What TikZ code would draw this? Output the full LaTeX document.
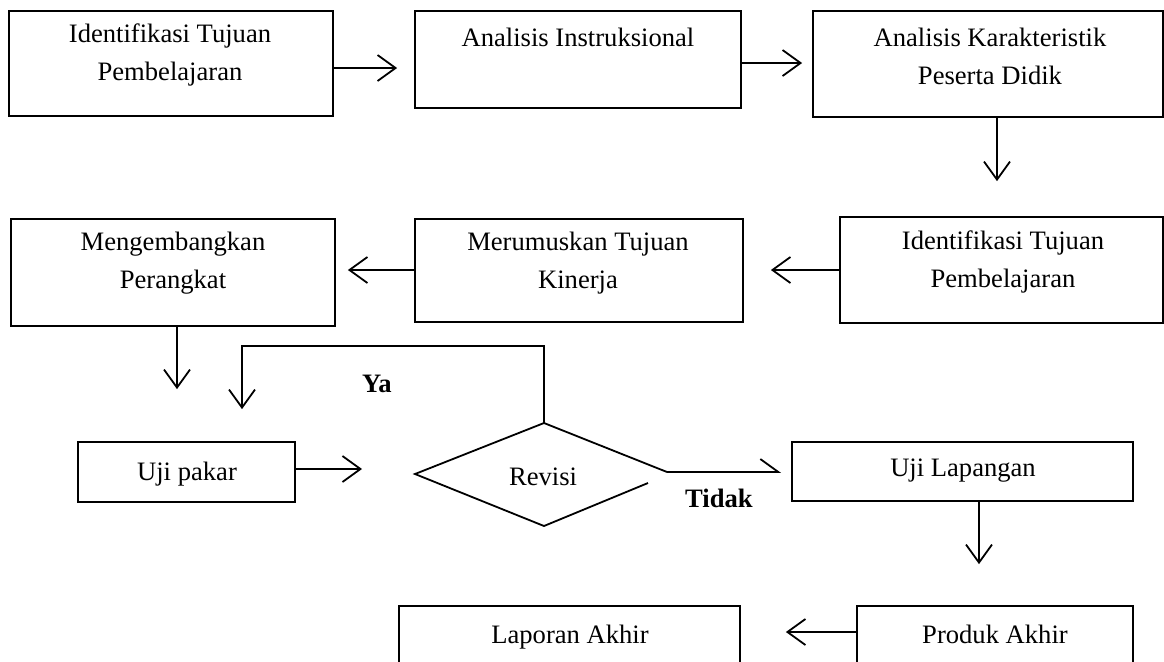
\documentclass[tikz,border=0pt]{standalone}
\usepackage{fontspec}
\setmainfont{Liberation Serif}
\usetikzlibrary{arrows.meta}
\begin{document}
\begin{tikzpicture}[x=0.5pt,y=-0.5pt,
  box/.style={draw, line width=0.9pt, inner sep=0pt},
  lbl/.style={font=\fontsize{13.3}{19}\selectfont, align=center, inner sep=0pt},
  sl/.style={lbl, text height=0.68em, text depth=0.22em, yshift=-2.5pt},
  blbl/.style={font=\fontsize{13.3}{19}\selectfont\bfseries, align=center, inner sep=0pt, text height=0.68em, text depth=0.22em, yshift=-2pt},
  conn/.style={line width=0.9pt},
  arr/.style={line width=0.9pt, -{Straight Barb[length=9pt,width=13pt]}},
  harr/.style={line width=0.9pt, -{Straight Barb[length=9pt,width=13pt,harpoon]}}]
\useasboundingbox (0,0) rectangle (1164,661);
\clip (0,0) rectangle (1164,661);
% boxes
\node[box, minimum width=162pt, minimum height=52.5pt] (A) at (171,63.5) {};
\node[box, minimum width=163pt, minimum height=48.5pt] (B) at (578,59.5) {};
\node[box, minimum width=175pt, minimum height=53pt] (C) at (988,64) {};
\node[box, minimum width=161.5pt, minimum height=53pt] (F) at (1001.5,270) {};
\node[box, minimum width=164pt, minimum height=51.5pt] (E) at (579,270.5) {};
\node[box, minimum width=162pt, minimum height=53.5pt] (D) at (173,272.5) {};
\node[box, minimum width=108.5pt, minimum height=30pt] (G) at (186.5,472) {};
\node[box, minimum width=170.5pt, minimum height=29.5pt] (H) at (962.5,471.5) {};
\node[box, minimum width=170.5pt, minimum height=47pt] (I) at (569.5,653) {};
\node[box, minimum width=138pt, minimum height=47pt] (J) at (995,653) {};
% texts
\node[lbl] (tA) at (170,55) {Identifikasi Tujuan\\Pembelajaran};
\node[sl] (tB) at (578,37) {Analisis Instruksional};
\node[lbl] (tC) at (990,56) {Analisis Karakteristik\\Peserta Didik};
\node[lbl] (tF) at (1003,262) {Identifikasi Tujuan\\Pembelajaran};
\node[lbl] (tE) at (578,263) {Merumuskan Tujuan\\Kinerja};
\node[lbl] (tD) at (173,263) {Mengembangkan\\Perangkat};
\node[sl] (tG) at (187,471) {Uji pakar};
\node[sl] (tH) at (963,467) {Uji Lapangan};
\node[sl] (tI) at (570,634) {Laporan Akhir};
\node[sl] (tJ) at (995,634) {Produk Akhir};
% diamond
\coordinate (Rl) at (415,474);
\coordinate (Rt) at (544,423);
\coordinate (Rr) at (667,472);
\coordinate (Rb) at (544,526);
\coordinate (Rg) at (648,483);
\draw[conn] (Rg) -- (Rb) -- (Rl) -- (Rt) -- (Rr);
\node[sl] (R) at (543,476) {Revisi};
\node[blbl] (ya) at (377,384) {Ya};
\node[blbl] (tidak) at (719,499) {Tidak};
% connectors
\draw[arr, shorten >=8.5pt] (A.east |- 0,68) -- (B.west |- 0,68);
\draw[arr, shorten >=5pt] (B.east |- 0,63) -- (C.west |- 0,63);
\draw[arr, shorten >=17.5pt] (C.south -| 997,0) -- (F.north -| 997,0);
\draw[arr, shorten >=13.5pt] (F.west |- 0,270) -- (E.east |- 0,270);
\draw[arr, shorten >=6pt] (E.west |- 0,270) -- (D.east |- 0,270);
\draw[arr, shorten >=26pt] (D.south -| 177,0) -- (G.north -| 177,0);
\draw[arr, shorten >=16pt] (Rt) -- (544,346) -- (242,346) -- (G.north -| 242,0);
\draw[arr, shorten >=26.5pt] (G.east |- 0,469) -- (Rl |- 0,469);
\draw[harr, shorten >=5pt] (Rr) -- (H.west |- Rr);
\draw[arr, shorten >=20.5pt] (H.south -| 979,0) -- (J.north -| 979,0);
\draw[arr, shorten >=22.5pt] (J.west |- 0,632) -- (I.east |- 0,632);
\end{tikzpicture}
\end{document}
